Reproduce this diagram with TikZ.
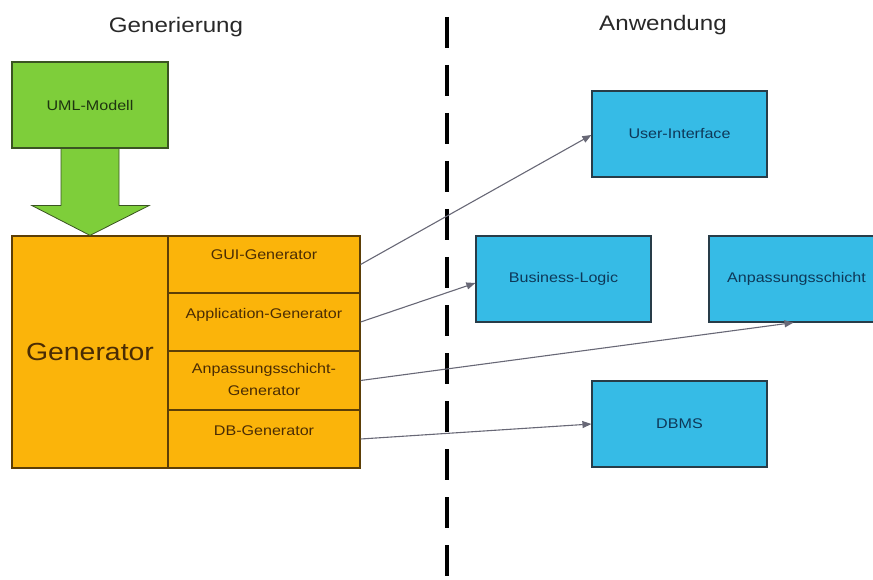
\documentclass[tikz,border=0pt]{standalone}
\usepackage{fontspec}
\setmainfont{Liberation Sans}[FakeStretch=1.15]
\usetikzlibrary{arrows.meta,calc}
\definecolor{umlgreen}{RGB}{126,206,58}
\definecolor{umlgreenline}{RGB}{58,84,34}
\definecolor{umlgreentext}{RGB}{30,52,16}
\definecolor{genorange}{RGB}{251,180,10}
\definecolor{genorangeline}{RGB}{92,62,6}
\definecolor{genorangetext}{RGB}{74,44,4}
\definecolor{appblue}{RGB}{54,187,230}
\definecolor{appblueline}{RGB}{40,60,72}
\definecolor{appbluetext}{RGB}{14,56,88}
\definecolor{linkgray}{RGB}{104,104,118}
\definecolor{titlegray}{RGB}{40,40,40}
\tikzset{
  greenbox/.style={draw=umlgreenline, fill=umlgreen, line width=1.2pt, minimum width=156pt, minimum height=86pt, inner sep=0pt, text=umlgreentext, font=\fontsize{14}{16}\selectfont},
  orangebox/.style={draw=genorangeline, fill=genorange, line width=1.2pt, inner sep=0pt},
  celltext/.style={anchor=north, text=genorangetext, align=center, inner sep=0pt, font=\fontsize{14}{22}\selectfont},
  bluebox/.style={draw=appblueline, fill=appblue, line width=1.2pt, minimum width=175pt, minimum height=86pt, inner sep=0pt, text=appbluetext, font=\fontsize{14}{16}\selectfont},
  link/.style={draw=linkgray, line width=1.1pt, -{Triangle[length=9pt,width=7pt]}},
  title/.style={text=titlegray, font=\fontsize{21}{24}\selectfont},
  divider/.style={line width=3.6pt, black, dash pattern=on 31pt off 17pt}
}
\begin{document}
\begin{tikzpicture}[x=1pt, y=-1pt]
\useasboundingbox (0,0) rectangle (873,580);
\clip (0,0) rectangle (873,580);

% column headings
\node[title] (tgen) at (176,27) {Generierung};
\node[title] (tapp) at (663,25) {Anwendung};

% separator between generation and application
\coordinate (septop) at (447,17);
\coordinate (sepbot) at (447,582);
\draw[divider] (septop) -- (sepbot);

% model
\node[greenbox] (uml) at (90,105) {UML-Modell};

% generator block
\node[orangebox, minimum width=156pt, minimum height=232pt] (gen) at (90,352) {};
\node[text=genorangetext, font=\fontsize{24.7}{28}\selectfont, inner sep=0pt] (genlabel) at (gen.center) {Generator};
\node[orangebox, minimum width=192pt, minimum height=57pt] (gui) at (264,264.5) {};
\node[orangebox, minimum width=192pt, minimum height=58pt] (app) at (264,322) {};
\node[orangebox, minimum width=192pt, minimum height=59pt] (anp) at (264,380.5) {};
\node[orangebox, minimum width=192pt, minimum height=58pt] (db) at (264,439) {};
\node[celltext] (guilabel) at ([yshift=-14pt]gui.north) {GUI-Generator};
\node[celltext] (applabel) at ([yshift=-16pt]app.north) {Application-Generator};
\node[celltext] (anplabel) at ([yshift=-13pt]anp.north) {Anpassungsschicht-\\Generator};
\node[celltext] (dblabel) at ([yshift=-16pt]db.north) {DB-Generator};

% big arrow from the model into the generator
\draw[draw=umlgreenline, fill=umlgreen, line width=0.8pt]
  ($(uml.south)+(-29,0)$) -- ($(uml.south)+(29,0)$) -- ($(uml.south)+(29,57)$)
  -- ($(uml.south)+(59,57)$) -- (gen.north -| uml.south) -- ($(uml.south)+(-58,57)$)
  -- ($(uml.south)+(-29,57)$) -- cycle;

% application layers
\node[bluebox] (ui) at (679.5,134) {User-Interface};
\node[bluebox] (bl) at (563.5,279) {Business-Logic};
\node[bluebox] (adapt) at (796.5,279) {Anpassungsschicht};
\node[bluebox] (dbms) at (679.5,424) {DBMS};

% generated artefacts
\draw[link] (gui.east) -- ([yshift=-1pt]ui.west);
\draw[link] (app.east) -- ([yshift=-4pt]bl.west);
\draw[link] (anp.east) -- ([xshift=-3pt]adapt.south);
\draw[link] (db.east) -- (dbms.west);
\end{tikzpicture}
\end{document}
